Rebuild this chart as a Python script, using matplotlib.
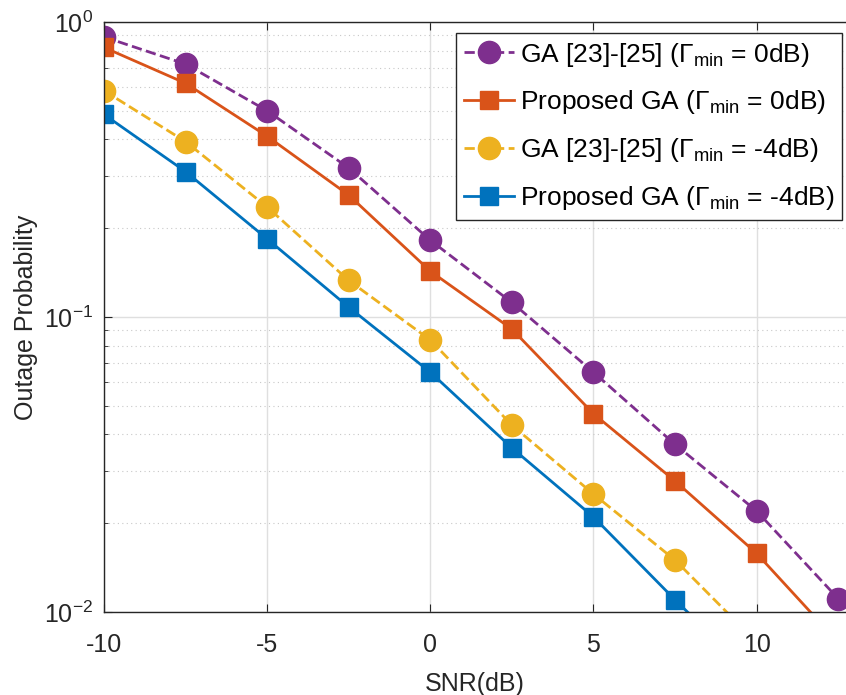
import numpy as np
import matplotlib
matplotlib.use("Agg")
import matplotlib.pyplot as plt
from matplotlib.ticker import LogLocator, NullFormatter

plt.rcParams['font.family'] = ['Liberation Sans', 'DejaVu Sans']
plt.rcParams['mathtext.fontset'] = 'custom'
plt.rcParams['mathtext.rm'] = 'Liberation Sans'
plt.rcParams['mathtext.it'] = 'Liberation Sans:italic'
plt.rcParams['mathtext.bf'] = 'Liberation Sans:bold'

# SNR points (dB)
snr = [-10, -7.5, -5, -2.5, 0, 2.5, 5, 7.5, 10, 12.5]

# outage probability
ga_0db = [0.89, 0.72, 0.50, 0.32, 0.182, 0.112, 0.065, 0.037, 0.022, 0.0111]
prop_0db = [0.82, 0.62, 0.41, 0.259, 0.143, 0.091, 0.047, 0.0278, 0.0158, 0.0079]
ga_m4db = [0.585, 0.393, 0.236, 0.133, 0.0836, 0.043, 0.0251, 0.015, 0.0079]
prop_m4db = [0.486, 0.311, 0.184, 0.108, 0.065, 0.036, 0.021, 0.011, 0.0059]

labels = [r'GA [23]-[25] ($\Gamma_{\rm min}$ = 0dB)',
          r'Proposed GA ($\Gamma_{\rm min}$ = 0dB)',
          r'GA [23]-[25] ($\Gamma_{\rm min}$ = -4dB)',
          r'Proposed GA ($\Gamma_{\rm min}$ = -4dB)']

purple = '#7E2F8E'
orange = '#D95319'
yellow = '#EDB120'
blue = '#0072BD'
dark = '#262626'

fig = plt.figure(figsize=(8.46, 6.95), dpi=100)
ax = fig.add_axes([104 / 846, 83 / 695, 742 / 846, 590 / 695])

ax.semilogy(snr, ga_0db, '--o', color=purple, lw=2, ms=16, label=labels[0])
ax.semilogy(snr, prop_0db, '-s', color=orange, lw=2, ms=13, label=labels[1])
ax.semilogy(snr[:len(ga_m4db)], ga_m4db, '--o', color=yellow, lw=2, ms=16, label=labels[2])
ax.semilogy(snr[:len(prop_m4db)], prop_m4db, '-s', color=blue, lw=2, ms=13, label=labels[3])

ax.set_xlim(-10, 12.74)
ax.set_ylim(1e-2, 1)
ax.set_xticks([-10, -5, 0, 5, 10])
ax.set_xticklabels(['-10', '-5', '0', '5', '10'])
ax.yaxis.set_major_locator(LogLocator(base=10, numticks=10))
ax.yaxis.set_minor_locator(LogLocator(base=10, subs=np.arange(2, 10), numticks=10))
ax.yaxis.set_minor_formatter(NullFormatter())

# MATLAB-ish grid
ax.grid(True, which='major', color='#DFDFDF', lw=1, ls='-')
ax.grid(True, which='minor', axis='y', color='#C8C8C8', lw=0.8, ls=(0, (1, 3)))
ax.set_axisbelow(True)

for side in ['left', 'bottom', 'top']:
    ax.spines[side].set_color(dark)
    ax.spines[side].set_linewidth(1)
ax.spines['right'].set_visible(False)

ax.tick_params(which='both', direction='in', top=True, right=False,
               colors=dark, labelsize=18)
ax.tick_params(which='major', length=6)
ax.tick_params(which='minor', length=3)
ax.tick_params(axis='x', pad=15)
ax.tick_params(axis='y', pad=8)

ax.set_xlabel('SNR(dB)', fontsize=18, color=dark, labelpad=11)
ax.set_ylabel('Outage Probability', fontsize=18, color=dark, labelpad=4)

leg = ax.legend(loc='upper right', bbox_to_anchor=(0.995, 0.982), borderaxespad=0,
                fontsize=19, fancybox=False, framealpha=1, edgecolor=dark,
                handlelength=1.9, handletextpad=0.2, labelspacing=0.75,
                borderpad=0.3)
leg.get_frame().set_linewidth(1)

fig.savefig('out.png', dpi=100)
